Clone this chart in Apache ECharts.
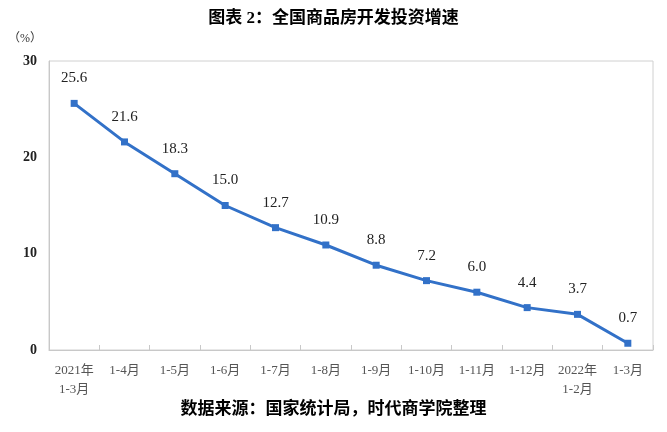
<!DOCTYPE html>
<html>
<head>
<meta charset="utf-8">
<script src="https://cdn.jsdelivr.net/npm/echarts@6/dist/echarts.min.js"></script>
<style>
html,body{margin:0;padding:0;background:#fff;}
#main{width:667px;height:432px;}
</style>
</head>
<body>
<div id="main"></div>
<script>
var categories = ['2021年\n1-3月','1-4月','1-5月','1-6月','1-7月','1-8月','1-9月','1-10月','1-11月','1-12月','2022年\n1-2月','1-3月'];
var growth = [25.6, 21.6, 18.3, 15.0, 12.7, 10.9, 8.8, 7.2, 6.0, 4.4, 3.7, 0.7];
var yTicks = [0, 10, 20, 30];

var serif = '"Liberation Serif","Noto Sans CJK SC",serif';
var myChart = echarts.init(document.getElementById('main'));
var option = {
    animation: false,
    title: {
        text: '图表 2：全国商品房开发投资增速',
        left: 'center',
        top: 5,
        textStyle: {fontFamily: serif, fontWeight: 'bold', fontSize: 17, color: '#000'}
    },
    graphic: [
        {//单位
            type: 'text', left: 8, top: 33,
            style: {text: '（%）', fontFamily: serif, fontSize: 12, fill: '#333'}
        },
        {//数据来源
            type: 'text', left: 'center', top: 401,
            style: {text: '数据来源：国家统计局，时代商学院整理', fontFamily: serif, fontWeight: 'bold', fontSize: 17, fill: '#000'}
        }
    ],
    grid: {
        left: 49,
        right: 14,
        top: 61,
        bottom: 82,
        show: true,
        borderColor: '#d0d0d0',
        borderWidth: 1
    },
    xAxis: {
        type: 'category',
        data: categories,
        boundaryGap: true,
        axisLine: {lineStyle: {color: '#c8c8c8'}},
        axisTick: {show: true, inside: true, length: 5, lineStyle: {color: '#c8c8c8'}},
        axisLabel: {interval: 0, fontFamily: serif, fontSize: 13, color: '#555', margin: 11, lineHeight: 19}
    },
    yAxis: {
        type: 'value',
        min: yTicks[0],
        max: yTicks[yTicks.length - 1],
        interval: 10,
        splitLine: {show: false},
        axisLine: {show: true, lineStyle: {color: '#c8c8c8'}},
        axisTick: {show: false},
        axisLabel: {fontFamily: serif, fontWeight: 'bold', fontSize: 14, color: '#222', margin: 12}
    },
    series: [{
        type: 'line',
        data: growth,
        symbol: 'rect',
        symbolSize: 7,
        lineStyle: {color: '#3271c8', width: 3},
        itemStyle: {color: '#3271c8'},
        label: {
            show: true,
            position: 'top',
            distance: 14,
            fontFamily: serif,
            fontSize: 15,
            color: '#222',
            formatter: function(p){ return p.value.toFixed(1); }
        }
    }]
};
myChart.setOption(option);
</script>
</body>
</html>
